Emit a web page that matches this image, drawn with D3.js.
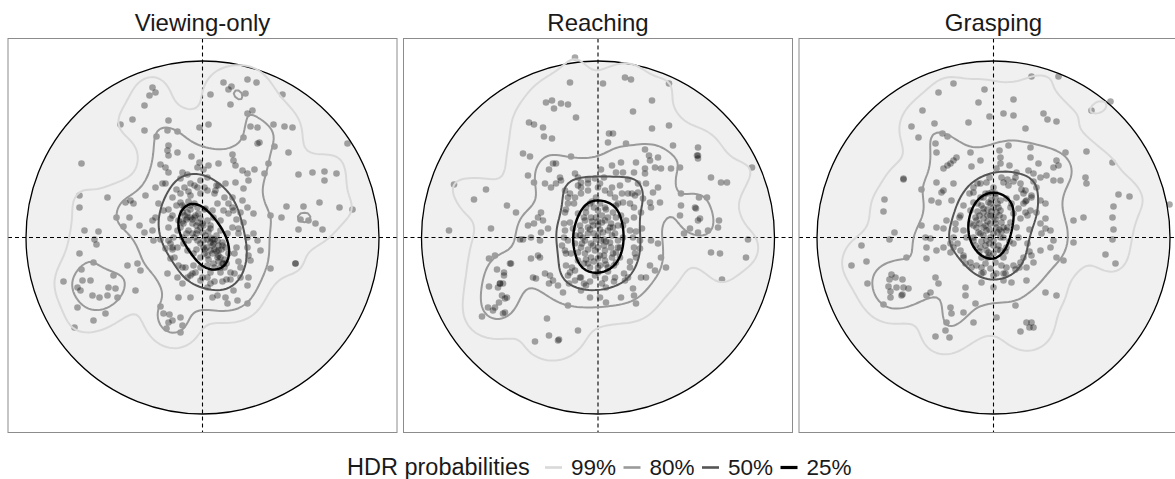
<!DOCTYPE html>
<html>
<head>
<meta charset="utf-8">
<script src="https://cdn.jsdelivr.net/npm/d3@7"></script>
<style>
  body { margin: 0; background: #fff; }
  svg { display: block; font-family: "Liberation Sans", Arial, sans-serif; }
</style>
</head>
<body>
<div class="canva"></div>
<script>
// panel titles and HDR levels
const conditions = ["Viewing-only", "Reaching", "Grasping"];
const hdrProbs = [0.99, 0.8, 0.5, 0.25];
const hdrLabels = ["99%", "80%", "50%", "25%"];
const hdrColors = ["#d9d9d9", "#9a9a9a", "#555555", "#000000"];

// fixation end points, offsets from the centre (circle radius = 177 units)
const viewingPts = [
  [-50,150],[-47,145],[-53,142],[-58,132],[-70,118],[-82,113],[-58,107],[-46,101],[-35,107],[-34,117],
  [-25,106],[-3,110],[6,113],[8,143],[21,155],[26,148],[29,151],[45,158],[54,155],[43,144],[80,143],
  [28,133],[45,124],[50,127],[48,111],[55,110],[71,113],[82,111],[90,110],[41,100],[145,94],[-121,74],
  [-123,42],[-123,30],[-118,7],[-104,6],[96,63],[110,65],[122,66],[122,57],[134,64],[101,31],[117,35],
  [137,30],[150,28],[106,17],[113,14],[96,8],[120,8],[98,18],
  [-108,-2],[-106,-7],[-123,-16],[-109,-25],[-121,-32],[-139,-44],[-125,-50],[-120,-43],[-112,-43],
  [-122,-53],[-110,-58],[-103,-60],[-125,-70],[-128,-90],[-109,-83],[-36,-91],[-22,-95],[93,-26],
  [-34,92],[-35,87],[-34,82],[-25,85],[-11,81],[-3,75],[-5,70],[1,68],[6,72],[16,74],[30,83],[31,77],
  [33,72],[40,67],[45,64],[52,68],[55,94],[57,95],[72,91],[86,85],[62,64],[66,74],[-42,73],[-37,70],
  [-34,65],[-20,65],[-15,63],[-22,59],[-12,54],[-40,54],[-47,50],[-37,54],[-57,42],[-69,34],[-72,37],
  [-77,35],[-95,40],[-86,20],[-73,20],[-79,11],[-63,12],[-58,5],[-50,7],[-47,20],[-44,34],[-39,27],
  [-32,19],[-50,17],[-49,-3],[-42,-2],[-34,-3],[-32,-21],[-24,-28],[-37,-11],[-30,-10],[-22,35],
  [-12,42],[-5,50],[-2,57],[5,60],[13,47],[16,52],[23,54],[33,55],[41,49],[46,57],[30,40],[40,37],
  [26,34],[15,34],[21,27],[31,27],[38,25],[45,30],[51,24],[41,15],[36,9],[45,0],[51,4],[55,-3],
  [45,-10],[58,-13],[68,22],[79,20],[84,31],[68,-31],[93,-26],[46,-18],[48,-23],[46,-40],[45,-48],
  [38,-40],[31,-53],[35,-63],[25,-66],[15,-58],[10,-60],[5,-50],[-2,-43],[-12,-38],[-20,-46],[-15,-40],
  [-7,-35],[-17,-30],[-2,-30],[8,-35],[18,-35],[28,-35],[21,-26],[15,-20],[8,-13],[1,-10],[11,-6],
  [20,-5],[25,4],[18,7],[8,9],[1,12],[-5,7],[-14,7],[-19,14],[-15,20],[-7,22],[-2,19],[5,17],[11,20],
  [18,17],[-5,30],[3,29],[10,27],[-2,44],[5,47],[-12,32],[-20,25],[-24,17],[-25,7],[-20,0],[-14,-3],
  [-5,-3],[1,-3],[8,0],[15,-3],[23,-10],[16,-13],[5,-18],[-2,-20],[-9,-16],[-15,-13],[-19,-6],[-25,-10],
  [-29,0],[11,-26],[18,-30],[5,-28],[-9,-28],[45,-66],[23,-60],[-42,-69],[-39,-76],[-33,-77],[-30,-83],
  [-22,-80],[-20,-88],[-12,-60],[-24,-60],[-34,-85],[-67,-53],[-75,-28],[-65,-26],[-62,-33],[-89,-38],
  [-94,-50],[-87,-51],[-85,-60],[-97,-76],[-95,-58],[-35,-36],[-25,-40],[5,-40],
  [-15,25],[-10,18],[-6,12],[0,5],[5,-2],[10,-8],[14,-14],[18,-20],[20,-26],[-18,30],[-12,28],[-8,20],
  [-2,10],[3,2],[8,-5],[12,-12],[16,-18],[22,-22],[-16,18],[-4,15],[6,6],[12,-2],[2,-12],[-10,4],[19,-12],
  [-20,32],[-14,36],[-8,34],[-18,22],[-10,14],[-4,24],[2,28],[-22,10],[-16,4],[-8,0],[-2,-6],[4,-10],
  [10,-16],[16,-24],[22,-30],[26,-16],[20,-8],[14,2],[8,12],[0,14],[-6,-12],[6,-22],[12,-30],[24,-26],
  [-12,20],[-20,16],[-6,4],[2,-16],[10,-2],[16,-8],
  [-30,40],[-26,48],[-18,50],[-8,52],[2,50],[12,44],[22,40],[30,30],[34,18],[36,4],[34,-10],[36,-24],
  [32,-36],[24,-42],[12,-44],[0,-40],[-10,-36],[-20,-30],[-28,-20],[-32,-6],[-34,10],[-30,22],[-26,32],
  [-22,44],[28,-42],[38,-30],[30,10],[26,24],[-30,-12],[-14,46],[8,-46],[20,-44],[32,-16],[-34,28],[14,52]
];

const reachingPts = [
  [-23,180],[-28,155],[5,154],[27,160],[33,158],[71,154],[54,137],[35,126],[-22,120],[-52,135],[-46,137],
  [-37,134],[-30,133],[-44,129],[-69,115],[-64,113],[-55,110],[-54,101],[-46,99],[71,112],[54,109],
  [11,104],[15,104],[100,90],[100,82],[100,79],[154,70],[113,60],[123,55],[129,55],[101,40],[109,40],
  [98,29],[102,19],[100,17],[100,5],[110,7],[121,17],[120,10],[-144,53],[-112,48],[-124,38],[-149,7],
  [-107,9],
  [-109,-21],[-103,-18],[-101,-32],[-87,-26],[-94,-38],[-98,-46],[-95,-46],[-109,-49],[-100,-50],
  [-93,-61],[-99,-65],[-105,-73],[-110,-70],[-103,-70],[-95,-76],[-116,-79],[-49,-98],[-39,-102],
  [-40,-103],[-63,-104],[-20,-93],[113,-15],[122,-16],[148,-20],[124,-42],[150,-2],
  [-75,84],[-68,81],[-49,68],[-45,74],[-42,74],[-38,60],[-37,57],[-27,81],[-23,64],[-20,60],[10,95],
  [28,94],[47,88],[51,82],[60,80],[52,77],[38,75],[23,75],[14,72],[18,65],[25,65],[3,68],[6,60],[-3,59],
  [-10,58],[-17,55],[36,65],[47,69],[47,64],[57,70],[63,69],[73,69],[75,92],[99,82],[82,70],[30,58],
  [40,54],[48,54],[60,50],[55,45],[40,45],[83,44],[30,44],[37,42],[45,39],[52,35],[62,35],[25,35],
  [18,32],[36,30],[43,25],[53,30],[-57,25],[-91,32],[-82,25],[-70,62],[-64,55],[-60,20],[-55,17],
  [-64,14],[-50,9],[-57,5],[-67,0],[-58,-3],[-75,-2],[-60,-18],[-67,-21],[-58,-20],[-65,-40],[-62,-41],
  [-53,-36],[-48,-38],[-45,-43],[-49,-46],[-40,-48],[-35,-55],[-30,-38],[-28,-35],[-29,-46],[-17,-53],
  [-12,-48],[-8,-60],[2,-60],[8,-65],[23,-60],[36,-58],[38,-66],[35,-51],[27,-43],[17,-40],[7,-41],
  [-3,-38],[-17,-40],[-23,-33],[-23,-43],[-32,-28],[-20,-23],[-27,-16],[-33,-13],[-23,-6],[-30,-3],
  [-33,7],[-28,15],[-33,25],[-30,34],[-23,40],[-17,44],[-10,47],[0,50],[7,47],[12,44],[17,40],[20,34],
  [15,25],[23,22],[28,17],[25,12],[32,7],[35,0],[42,-3],[42,-11],[37,-16],[32,-30],[43,-40],[48,-40],
  [52,-28],[57,-33],[63,-20],[68,-30],[82,22],[92,9],[86,4],[83,32],[97,30],[44,9],[53,-3],[60,-6],
  [-51,-81],[-30,-68],[-94,-35],[-88,-26],[-98,-46],[-96,-58],[-93,-75],[-91,-60],[-78,-2],[-70,12],
  [-53,54],[-47,50],[-42,54],[-33,47],[-17,50],[-2,40],[-8,34],[7,30],[0,27],[-7,20],[-13,17],[0,12],
  [7,17],[13,14],[10,7],[0,2],[-10,4],[-17,7],[-13,-3],[-7,-6],[0,-10],[7,-13],[13,-10],[20,-3],[17,4],
  [15,-16],[7,-23],[0,-21],[-7,-20],[-13,-16],[-17,-10],[-10,-26],[0,-30],[10,-30],[18,-25],[-3,-13],
  [3,-3],[-5,12],[-12,25],[-20,24],[-18,12],[-22,2],[-25,9],
  [-5,-8],[5,5],[-10,10],[12,-5],[2,-18],[-2,20],[8,-27],[-15,0],[15,10],[22,-10],[-8,-30],[4,15],
  [-4,30],[10,20],[18,-15],[-12,-22],[25,0],[-20,-15],[0,-35],[6,-2],
  [-12,30],[-6,36],[2,34],[8,28],[-14,20],[-6,16],[2,8],[8,-4],[14,-20],[20,-10],[-10,-12],[-4,-24],
  [6,-18],[14,2],[20,12],[-16,-6],[-2,-2],[4,22],[10,-34],[-8,8],[16,-28],[-14,-26],[0,16],[12,10],
  [22,-20],[-18,2],[6,-8],[-4,4],[2,-28],[18,20],
  [-28,44],[-20,52],[-10,54],[2,54],[14,50],[24,44],[32,34],[36,20],[38,6],[36,-10],[32,-24],[26,-36],
  [16,-44],[4,-46],[-8,-44],[-18,-40],[-26,-30],[-32,-16],[-34,0],[-34,14],[-32,28],[-24,34],[30,-40],
  [-14,-46],[38,-20],[34,44],[-30,40],[8,-50],[-36,-8],[22,52]
];

const graspingPts = [
  [-40,154],[-55,145],[-9,148],[-15,135],[20,138],[38,161],[65,161],[10,124],[20,122],[-4,121],[-71,127],
  [-82,111],[-75,100],[-59,114],[-51,104],[-46,101],[-25,115],[50,124],[54,118],[63,116],[32,109],
  [98,127],[117,136],[119,75],[125,43],[136,41],[120,31],[119,20],[120,8],[176,33],[-90,58],[-109,38],
  [-110,26],[-99,5],
  [-104,-2],[-132,-8],[-142,-28],[-127,-24],[-126,-46],[112,-17],[122,-26],[119,-2],[-58,-99],[-44,-100],
  [-48,-93],[27,-94],[36,-90],[38,-85],
  [-104,-42],[-97,-50],[-91,-42],[-90,-50],[-85,-51],[-103,-54],[-103,-60],[-91,-57],[-105,-49],
  [-102,-37],[-110,-67],[-98,-40],[-92,-58],
  [-58,94],[-57,85],[-46,72],[-43,74],[-40,77],[-37,80],[-50,69],[-23,85],[-22,71],[-13,77],[6,87],[7,80],
  [7,74],[3,69],[15,92],[16,72],[23,65],[37,90],[37,80],[45,74],[35,67],[40,64],[47,60],[53,62],[60,57],
  [67,57],[63,77],[60,70],[65,72],[72,85],[93,86],[92,60],[93,54],[-57,55],[-40,54],[-50,47],[-52,45],
  [-72,48],[-90,59],[-62,37],[-55,35],[-42,37],[-20,45],[-13,54],[-7,55],[0,50],[10,55],[15,52],[22,60],
  [27,54],[32,47],[38,42],[43,50],[47,37],[52,34],[33,37],[25,29],[32,25],[37,27],[43,25],[52,19],
  [47,14],[52,9],[48,4],[57,7],[60,-3],[57,-10],[47,-13],[38,-18],[40,-25],[33,-30],[27,-25],[20,-28],
  [13,-30],[10,-36],[3,-36],[-3,-31],[-10,-35],[-17,-28],[-23,-25],[-30,-20],[-33,-13],[-40,-10],
  [-43,-6],[-50,-10],[-43,-15],[-57,-13],[-67,-10],[-68,0],[-63,-1],[-72,12],[-57,10],[-50,9],[-47,17],
  [-38,14],[-33,22],[-23,27],[-20,35],[-13,40],[-5,44],[2,40],[7,37],[13,39],[17,30],[20,24],[27,19],
  [23,10],[25,0],[20,-6],[13,-10],[7,-13],[0,-16],[-7,-13],[-13,-10],[-20,-3],[-27,0],[-30,7],[-23,14],
  [-17,17],[-10,19],[-3,22],[3,25],[10,20],[17,15],[13,7],[7,0],[0,-3],[-7,-3],[-13,4],[-17,10],
  [-10,10],[-3,14],[3,10],[10,10],[0,4],[-7,7],[0,30],[-3,34],[-10,29],[7,27],[18,34],[23,40],[30,34],
  [-87,-20],[-67,-21],[-58,-40],[-55,-46],[-67,-58],[-63,-55],[-28,-50],[-18,-66],[-28,-58],[-12,-45],
  [0,-50],[10,-43],[18,-45],[33,-43],[52,-55],[63,-58],[63,-20],[70,-23],[80,-5],[80,17],[90,20],
  [-30,-75],[-20,-85],[3,-80],[22,-68],[33,-85],[40,-90],[-43,-70],[-42,-76],[-47,-85],
  [-5,35],[-10,25],[0,20],[-8,12],[-15,5],[-3,0],[5,-8],[-5,-15],[-12,-20],[2,-25],[8,15],[-2,45],
  [-10,40],[5,30],[-18,20],[-20,0],[10,-20],[-8,-8],[4,5],[-12,-30],[-6,28],[2,18],[-14,14],[6,8],[-4,-6],
  [-8,44],[-2,38],[4,34],[-12,32],[-16,26],[-6,22],[2,14],[-10,2],[-18,-8],[-6,-20],[4,-12],[10,0],
  [14,10],[-14,-14],[-4,8],[6,22],[-20,12],[0,-8],[-8,-26],[8,-28],[12,-14],[-16,34],[-2,26],[-12,-4],
  [16,-4],[-6,16],[2,44],[-4,-18],[8,6],[-14,22],
  [-34,20],[-38,8],[-36,-6],[-30,-18],[-22,-30],[-12,-36],[0,-38],[12,-36],[22,-32],[30,-20],[34,-6],
  [36,8],[34,22],[32,36],[28,48],[20,56],[8,60],[-4,60],[-16,54],[-24,44],[-30,32],[38,40],[40,56],
  [-28,-26],[26,-30],[-40,0],[14,58],[-20,50],[36,-14],[30,44]
];

const panelPoints = [viewingPts, reachingPts, graspingPts];

const W = 1175, H = 479;
const panelW = 389, panelGap = 6.5, panelTop = 38.5, panelBottom = 432.5;
const R = 176.5, cy = 237.5;
const bandwidth = 16;

const svg = d3.select(".canva").append("svg")
  .attr("width", W)
  .attr("height", H);

// gaussian kernel sum, same one for grid and for the points
function kde(pts, x, y) {
  let s = 0;
  const k = 2 * bandwidth * bandwidth;
  for (const p of pts) {
    const dx = x - p[0], dy = y - p[1];
    s += Math.exp(-(dx * dx + dy * dy) / k);
  }
  return s;
}

const g0 = -240, step = 3, n = Math.round(-2 * g0 / step) + 1;

conditions.forEach((name, i) => {
  const pts = panelPoints[i];
  const x0 = 8 + i * (panelW + panelGap);
  const cx = x0 + panelW / 2;

  const xs = d3.scaleLinear().domain([-R, R]).range([cx - R, cx + R]);
  const ys = d3.scaleLinear().domain([-R, R]).range([cy + R, cy - R]);

  const g = svg.append("g");

  g.append("clipPath").attr("id", "clip" + i)
    .append("rect")
    .attr("x", x0).attr("y", panelTop)
    .attr("width", panelW).attr("height", panelBottom - panelTop);

  g.append("text")
    .text(name)
    .attr("x", cx)
    .attr("y", 31)
    .attr("text-anchor", "middle")
    .attr("font-size", 24)
    .attr("fill", "#1a1a1a");

  const body = g.append("g").attr("clip-path", `url(#clip${i})`);

  body.append("circle")
    .attr("cx", xs(0)).attr("cy", ys(0)).attr("r", xs(R) - xs(0))
    .attr("fill", "#f0f0f0")
    .attr("stroke", "#000")
    .attr("stroke-width", 1.3);

  body.append("line")
    .attr("x1", cx).attr("x2", cx)
    .attr("y1", panelTop).attr("y2", panelBottom)
    .attr("stroke", "#000").attr("stroke-width", 1.1)
    .attr("stroke-dasharray", "4,3");
  body.append("line")
    .attr("x1", x0).attr("x2", x0 + panelW)
    .attr("y1", ys(0)).attr("y2", ys(0))
    .attr("stroke", "#000").attr("stroke-width", 1.1)
    .attr("stroke-dasharray", "4,3");

  body.selectAll("circle.pt")
    .data(pts)
    .join("circle")
    .attr("class", "pt")
    .attr("cx", d => xs(d[0]))
    .attr("cy", d => ys(d[1]))
    .attr("r", 3.3)
    .attr("fill", "#000")
    .attr("fill-opacity", 0.34);

  // density grid and HDR thresholds
  const values = new Float64Array(n * n);
  for (let j = 0; j < n; j++) {
    for (let k = 0; k < n; k++) {
      values[k + j * n] = kde(pts, g0 + k * step, -g0 - j * step);
    }
  }
  const dens = pts.map(p => kde(pts, p[0], p[1])).sort(d3.ascending);

  const proj = d3.geoTransform({
    point(gx, gy) {
      this.stream.point(xs(g0 + (gx - 0.5) * step), ys(-g0 - (gy - 0.5) * step));
    }
  });
  const path = d3.geoPath(proj);
  const contours = d3.contours().size([n, n]);

  hdrProbs.forEach((p, li) => {
    const t = d3.quantile(dens, 1 - p);
    body.append("path")
      .attr("d", path(contours.contour(values, t)))
      .attr("fill", "none")
      .attr("stroke", hdrColors[li])
      .attr("stroke-width", li === 3 ? 2.4 : 2)
      .attr("stroke-linejoin", "round");
  });

  g.append("rect")
    .attr("x", x0).attr("y", panelTop)
    .attr("width", panelW).attr("height", panelBottom - panelTop)
    .attr("fill", "none")
    .attr("stroke", "#8c8c8c")
    .attr("stroke-width", 1);
});

// legend
const legend = svg.append("g");
legend.append("text")
  .text("HDR probabilities")
  .attr("x", 347)
  .attr("y", 475)
  .attr("font-size", 23.5)
  .attr("fill", "#1a1a1a");

hdrLabels.forEach((lab, i) => {
  const kx = 545 + i * 78.5;
  legend.append("line")
    .attr("x1", kx).attr("x2", kx + 17)
    .attr("y1", 467.5).attr("y2", 467.5)
    .attr("stroke", hdrColors[i])
    .attr("stroke-width", i === 3 ? 3.2 : 2.6);
  legend.append("text")
    .text(lab)
    .attr("x", kx + 26)
    .attr("y", 475)
    .attr("font-size", 22.5)
    .attr("fill", "#1a1a1a");
});
</script>
</body>
</html>
